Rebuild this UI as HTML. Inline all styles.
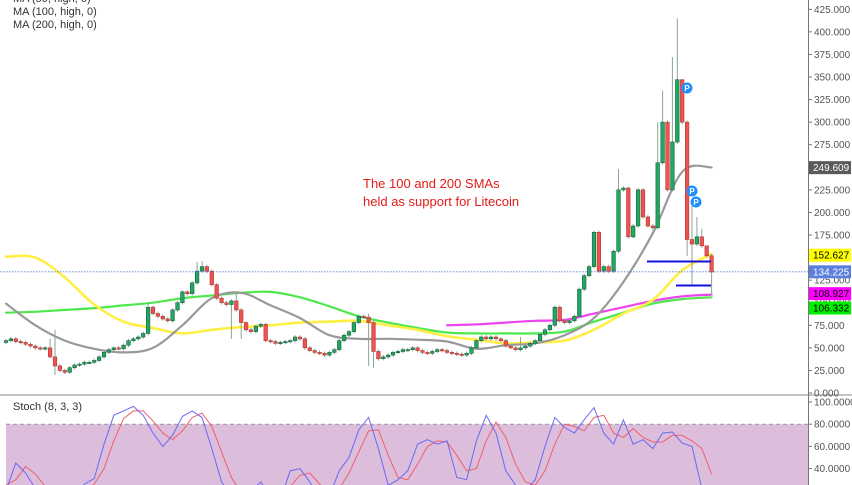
<!DOCTYPE html>
<html><head><meta charset="utf-8"><style>
html,body{margin:0;padding:0;background:#fff;}
#wrap{position:relative;width:852px;height:485px;overflow:hidden;font-family:"Liberation Sans",sans-serif;}
svg{position:absolute;left:0;top:0;}
</style></head><body>
<div id="wrap">
<svg id="chart" width="852" height="485" viewBox="0 0 852 485">
  <rect x="0" y="0" width="852" height="485" fill="#fff"/>
  <g id="stochBg">
    <rect x="6" y="424.3" width="802" height="62" fill="#dcbddc"/>
    <line x1="6" y1="424.3" x2="808" y2="424.3" stroke="#999" stroke-dasharray="4,3"/>
  </g>
  <g id="mas"></g>
  <g id="candles"></g>
  <g id="stoch"></g>
  <g id="overlay"></g>
  <line x1="0" y1="395" x2="852" y2="395" stroke="#888" stroke-width="1"/>
  <line x1="808.5" y1="0" x2="808.5" y2="485" stroke="#777" stroke-width="1"/>
  <g id="axis" font-family="Liberation Sans, sans-serif" font-size="10" fill="#555"></g>
  <g font-family="Liberation Sans, sans-serif" font-size="11" fill="#333">
    <text x="13" y="2">MA (50, high, 0)</text>
    <text x="13" y="15">MA (100, high, 0)</text>
    <text x="13" y="28">MA (200, high, 0)</text>
    <text x="13" y="410">Stoch (8, 3, 3)</text>
  </g>
  <g font-family="Liberation Sans, sans-serif" font-size="13" fill="#e41b17">
    <text x="363" y="188">The 100 and 200 SMAs</text>
    <text x="363" y="206">held as support for Litecoin</text>
  </g>
</svg>
</div>
<script>
const closes = [58,60,57,56,54,52,50,49,50,40,
30,25,23,28,31,32,34,34,36,40,
45,48,50,49,53,58,60,62,66,95,
88,85,82,80,92,100,112,110,122,135,
140,135,120,105,100,98,102,92,78,70,
68,74,76,58,57,55,56,57,58,62,
60,50,47,45,44,42,45,48,58,64,
68,78,85,84,78,46,38,40,42,45,
46,48,48,50,47,45,44,46,48,47,
45,44,43,42,44,50,58,62,60,62,
60,58,52,50,48,50,52,55,58,65,
70,75,95,80,78,80,85,115,130,140,
178,135,140,135,157,225,227,173,185,225,
195,185,183,255,300,225,278,347,300,170,
165,173,163,152,134];
const firstOpen = 56;
const highOverrides = {9:60,10:70,29:100,39:145,40:146,47:110,74:88,75:80,105:62,125:248,133:300,134:335,136:372,137:415,138:325,140:210,141:195,142:182,143:160};
const lowOverrides = {10:20,46:60,48:60,74:30,75:28,139:152,140:120,144:108};
const ma20 = [99,75,58,49,45,50,75,105,111,97,83,64,60,60,59,57,49,53,55,64,83,123,177,245,250];
const ma50 = [151,150,128,98,79,72,66,70,73,75,78,79,80,75,70,63,59,55,56,58,70,88,103,136,154];
const ma100 = [89,90,92,94,97,100,105,108,111,112,106,96,85,78,72,67,66,66,66,68,79,89,99,104,106];
const ma200Start = 15;
const ma200 = [75,76,78,80,81,88,95,102,107,109];
const stochK = [20,45,36,22,15,12,12,15,26,31,62,88,92,96,88,72,60,70,87,92,86,58,28,15,15,20,28,15,12,38,40,28,12,15,38,50,75,86,58,25,30,38,62,66,62,65,32,30,65,88,72,38,25,20,30,60,86,77,72,84,95,72,62,84,62,66,58,72,73,63,60,22,15];
const stochD = [25,30,42,35,24,16,13,13,18,26,40,65,85,92,92,83,72,66,74,86,90,78,55,32,18,17,22,22,18,24,34,36,26,17,22,36,55,74,75,52,32,30,44,60,65,64,52,38,40,65,82,68,44,28,25,38,62,80,78,74,86,88,72,68,76,68,64,64,70,70,65,58,35];
const priceTicks = [425,400,375,350,325,300,275,250,225,200,175,150,125,100,75,50,25,0];
const stochTicks = [100,80,60,40];

const NS='http://www.w3.org/2000/svg';
const px = i => 6 + 4.9*i;
const py = v => 393 - v*0.9028;
const sy = v => 402 + (100 - v)*1.11;
function mk(tag, attrs, parent){const e=document.createElementNS(NS,tag);for(const k in attrs)e.setAttribute(k,attrs[k]);parent.appendChild(e);return e;}
function smoothPath(pts){
  let d='M'+pts[0][0].toFixed(1)+','+pts[0][1].toFixed(1);
  for(let i=0;i<pts.length-1;i++){
    const p0=pts[Math.max(0,i-1)],p1=pts[i],p2=pts[i+1],p3=pts[Math.min(pts.length-1,i+2)];
    const c1=[p1[0]+(p2[0]-p0[0])/6,p1[1]+(p2[1]-p0[1])/6];
    const c2=[p2[0]-(p3[0]-p1[0])/6,p2[1]-(p3[1]-p1[1])/6];
    d+=' C'+c1[0].toFixed(1)+','+c1[1].toFixed(1)+' '+c2[0].toFixed(1)+','+c2[1].toFixed(1)+' '+p2[0].toFixed(1)+','+p2[1].toFixed(1);
  }
  return d;
}

const gC=document.getElementById('candles');
closes.forEach((c,i)=>{
  const o = i===0 ? firstOpen : closes[i-1];
  const hi = highOverrides[i]!==undefined ? highOverrides[i] : Math.max(o,c)+2;
  const lo = lowOverrides[i]!==undefined ? lowOverrides[i] : Math.min(o,c)-2;
  const up = c>=o;
  const x = px(i);
  const w = mk('line',{x1:x,x2:x,y1:py(hi),y2:py(lo),stroke:'#8aa596','stroke-width':1},gC);
  
  
  const top = py(Math.max(o,c)), h = Math.max(1.2, Math.abs(py(o)-py(c)));
  const b = mk('rect',{x:x-1.8,y:top,width:3.6,height:h,fill:up?'#1fa862':'#ef5350',stroke:up?'#1b5e3a':'#b03a38','stroke-width':0.6},gC);
  
  
});

const gM=document.getElementById('mas');
function maLine(arr,start,color,name,width){
  const pts = arr.map((v,k)=>[px((start+k)*6),py(v)]);
  const l = mk('path',{d:smoothPath(pts),fill:'none',stroke:color,'stroke-width':width,'stroke-linejoin':'round','stroke-linecap':'round'},gM);
  
  
}
maLine(ma100,0,'#4de84d','ma100-line',2.2);
maLine(ma200,ma200Start,'#ee44ee','ma200-line',2.2);
maLine(ma50,0,'#ffee44','ma50-line',2.6);
maLine(ma20,0,'#999999','ma20-line',2.2);

const gS=document.getElementById('stoch');
function stLine(arr,color,name){
  const pts = arr.map((v,j)=>px(j*2).toFixed(1)+','+sy(v).toFixed(1)).join(' ');
  const l = mk('polyline',{points:pts,fill:'none',stroke:color,'stroke-width':1},gS);
  
  
}
stLine(stochD,'#f0606a','stoch-d-line');
stLine(stochK,'#6a6af0','stoch-k-line');

const gO=document.getElementById('overlay');
const cur = mk('line',{x1:0,x2:808,y1:py(134.225),y2:py(134.225),stroke:'#5577dd','stroke-width':0.8,'stroke-dasharray':'1.5,1.5'},gO);


const s1 = mk('line',{x1:647,x2:711,y1:261.5,y2:261.5,stroke:'#1111dd','stroke-width':2},gO);


const s2 = mk('line',{x1:676,x2:711,y1:285.5,y2:285.5,stroke:'#1111dd','stroke-width':2},gO);


[[687,88],[692,191],[696,202]].forEach(p=>{
  const g = mk('g',{},gO);
  
  
  mk('circle',{cx:p[0],cy:p[1],r:5.5,fill:'#1e90ff'},g);
  const t = mk('text',{x:p[0],y:p[1]+3,'text-anchor':'middle','font-size':8,'font-weight':'bold',fill:'#fff','font-family':'Liberation Sans, sans-serif'},g);
  t.textContent='P';
});

const gA=document.getElementById('axis');
priceTicks.forEach(v=>{
  const y=py(v);
  const tk = mk('line',{x1:808,x2:812,y1:y,y2:y,stroke:'#777'},gA);
  
  
  const t = mk('text',{x:814,y:y+3.5},gA);
  
  
  t.textContent=v.toFixed(3);
});
stochTicks.forEach(v=>{
  const y=sy(v);
  const tk = mk('line',{x1:808,x2:812,y1:y,y2:y,stroke:'#777'},gA);
  
  
  const t = mk('text',{x:814,y:y+3.5},gA);
  
  
  t.textContent=v.toFixed(4);
});
const tags = [[249.609,'#5a5a5a','#fff','label-ma20',0],[152.627,'#ffff00','#000','label-ma50',0],[134.225,'#5b7fdb','#fff','label-last-price',0],[108.927,'#ff00ff','#000','label-ma200',-1],[106.332,'#00ee00','#000','label-ma100',11]];
tags.forEach(tg=>{
  const y=py(tg[0])+tg[4];
  const g = mk('g',{},gA);
  
  
  mk('rect',{x:809,y:y-6.5,width:42,height:13,fill:tg[1]},g);
  const t = mk('text',{x:813,y:y+3.5,fill:tg[2]},g);
  t.textContent=tg[0].toFixed(3);
});
const sg = mk('g',{},gA);


mk('rect',{x:809,y:sy(stochK[stochK.length-1])-6,width:42,height:13,fill:'#ee1111'},sg);
</script>
</body></html>
